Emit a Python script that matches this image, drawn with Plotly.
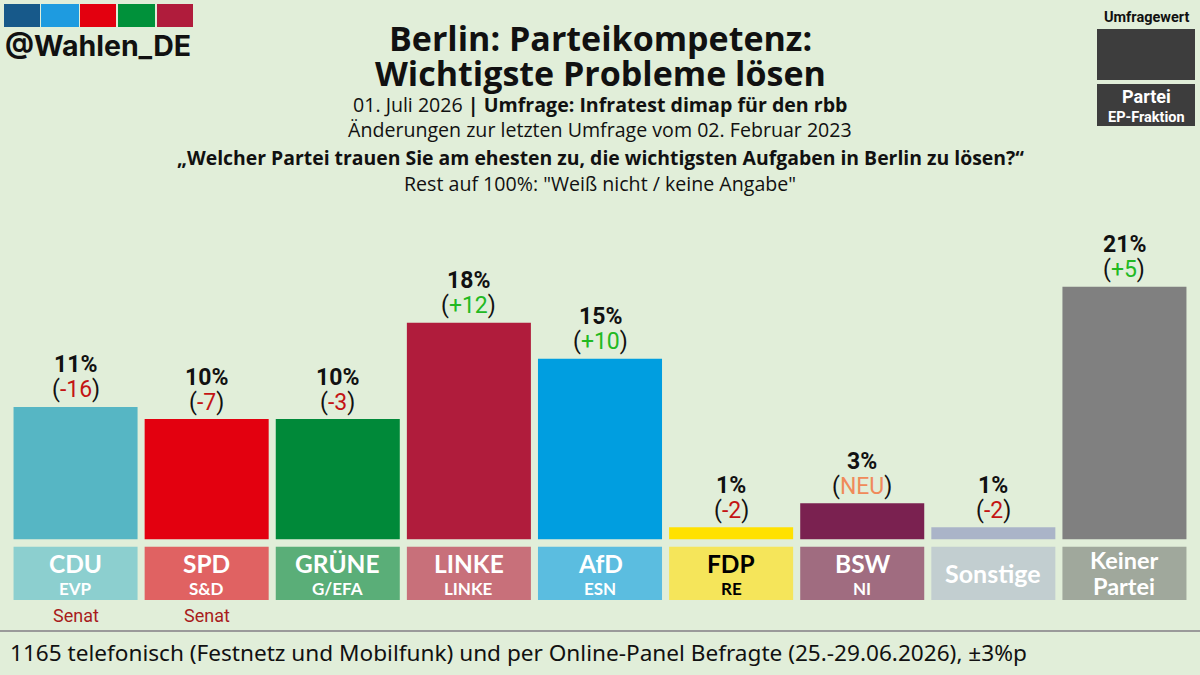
import plotly.graph_objects as go

# ---------------- data ----------------
parties = ["CDU", "SPD", "GRÜNE", "LINKE", "AfD", "FDP", "BSW", "Sonstige", "Keiner Partei"]
box_names = ["CDU", "SPD", "GRÜNE", "LINKE", "AfD", "FDP", "BSW", "Sonstige", "Keiner<br>Partei"]
fractions = ["EVP", "S&D", "G/EFA", "LINKE", "ESN", "RE", "NI", "", ""]
values = [11, 10, 10, 18, 15, 1, 3, 1, 21]
changes = ["-16", "-7", "-3", "+12", "+10", "-2", "NEU", "-2", "+5"]
notes = ["Senat", "Senat", "", "", "", "", "", "", ""]

bar_colors = ["#56b6c4", "#e3000f", "#008939", "#b01c3c", "#009ee0", "#ffe100", "#7a2150", "#aab4c8", "#808080"]
box_colors = ["#8ccfcf", "#e06262", "#5aae78", "#c8707a", "#5bbde0", "#f5e55a", "#a06c80", "#c2ced0", "#a0a89c"]
box_text_colors = ["white", "white", "white", "white", "white", "black", "white", "white", "white"]

BG = "#e1eed9"

# ---------------- geometry helpers ----------------
W, H = 1200, 675
ML, MR, MT, MB = 10, 10, 200, 75
PW, PH = W - ML - MR, H - MT - MB
BASE_PX = 539.3            # pixel row of y = 0
PX_PER_UNIT = 12.03
Y_MIN = -(H - MB - BASE_PX) / PX_PER_UNIT
Y_MAX = (BASE_PX - MT) / PX_PER_UNIT
BOX_TOP = -(546.7 - BASE_PX) / PX_PER_UNIT
BOX_BOTTOM = Y_MIN
BOX_MID = (BOX_TOP + BOX_BOTTOM) / 2


def px(xp):
    return (xp - ML) / PW


def py(yp):
    return (H - MB - yp) / PH


fig = go.Figure()

# label boxes under the bars
fig.add_trace(go.Bar(
    x=parties, y=[BOX_TOP - BOX_BOTTOM] * len(parties), base=[BOX_BOTTOM] * len(parties),
    marker=dict(color=box_colors, line=dict(width=0)), hoverinfo="skip", showlegend=False,
))
# main bars
fig.add_trace(go.Bar(
    x=parties, y=values, marker=dict(color=bar_colors, line=dict(width=0)),
    hoverinfo="skip", showlegend=False,
))

ann = []
for p, v, c in zip(parties, values, changes):
    ann.append(dict(x=p, y=v, xref="x", yref="y", xanchor="center", yanchor="middle", yshift=42,
                    text=f"<b>{v}%</b>", showarrow=False,
                    font=dict(family="Roboto", size=23, color="#111111")))
    if c == "NEU":
        col = "#f08a5a"
    elif c.startswith("+"):
        col = "#22b922"
    else:
        col = "#c41414"
    ann.append(dict(x=p, y=v, xref="x", yref="y", xanchor="center", yanchor="middle", yshift=17,
                    text=f"(<span style='color:{col}'>{c}</span>)", showarrow=False,
                    font=dict(family="Roboto", size=23, color="#111111")))

for p, n, f, tc in zip(parties, box_names, fractions, box_text_colors):
    if f:
        ann.append(dict(x=p, y=BOX_MID, xref="x", yref="y", xanchor="center", yanchor="middle", yshift=10,
                        text=f"<b>{n}</b>", showarrow=False,
                        font=dict(family="Lato", size=24.5, color=tc)))
        ann.append(dict(x=p, y=BOX_MID, xref="x", yref="y", xanchor="center", yanchor="middle", yshift=-15,
                        text=f"<b>{f}</b>", showarrow=False,
                        font=dict(family="Lato", size=17, color=tc)))
    else:
        lines = n.split("<br>")
        if len(lines) == 1:
            ann.append(dict(x=p, y=BOX_MID, xref="x", yref="y", xanchor="center", yanchor="middle",
                            text=f"<b>{lines[0]}</b>", showarrow=False,
                            font=dict(family="Lato", size=25, color=tc)))
        else:
            for line, s in zip(lines, [13, -13]):
                ann.append(dict(x=p, y=BOX_MID, xref="x", yref="y", xanchor="center", yanchor="middle",
                                yshift=s, text=f"<b>{line}</b>", showarrow=False,
                                font=dict(family="Lato", size=23.5, color=tc)))

for p, n in zip(parties, notes):
    if n:
        ann.append(dict(x=p, y=BOX_BOTTOM, xref="x", yref="y", xanchor="center", yanchor="middle", yshift=-15,
                        text=n, showarrow=False,
                        font=dict(family="Roboto", size=18, color="#a81c1c")))

C = dict(xref="paper", yref="paper", xanchor="center", yanchor="middle", showarrow=False)
ann += [
    dict(C, x=px(600), y=py(38), text="<b>Berlin: Parteikompetenz:</b>",
         font=dict(family="Open Sans", size=34, color="#111111")),
    dict(C, x=px(600), y=py(73), text="<b>Wichtigste Probleme lösen</b>",
         font=dict(family="Open Sans", size=34, color="#111111")),
    dict(C, x=px(600), y=py(104), text="01. Juli 2026 <b>| Umfrage: Infratest dimap für den rbb</b>",
         font=dict(family="Open Sans", size=19.6, color="#111111")),
    dict(C, x=px(600), y=py(129), text="Änderungen zur letzten Umfrage vom 02. Februar 2023",
         font=dict(family="Open Sans", size=19.6, color="#111111")),
    dict(C, x=px(600), y=py(157),
         text="<b>„Welcher Partei trauen Sie am ehesten zu, die wichtigsten Aufgaben in Berlin zu lösen?“</b>",
         font=dict(family="Open Sans", size=19.4, color="#111111")),
    dict(C, x=px(600), y=py(183), text="Rest auf 100%: \"Weiß nicht / keine Angabe\"",
         font=dict(family="Open Sans", size=19.6, color="#111111")),
    # footer
    dict(C, x=px(8), y=py(652), xanchor="left",
         text="1165 telefonisch (Festnetz und Mobilfunk) und per Online-Panel Befragte (25.-29.06.2026), ±3%p",
         font=dict(family="Noto Sans", size=22.6, color="#111111")),
    # logo text
    dict(C, x=px(3), y=py(45), xanchor="left", text="<b>@Wahlen_DE</b>",
         font=dict(family="Inter", size=28.5, color="#111111")),
    # legend box texts
    dict(C, x=px(1146), y=py(17), text="<b>Umfragewert</b>",
         font=dict(family="Roboto", size=14.5, color="#111111")),
    dict(C, x=px(1146), y=py(97), text="<b>Partei</b>",
         font=dict(family="Roboto", size=18, color="white")),
    dict(C, x=px(1146), y=py(117), text="<b>EP-Fraktion</b>",
         font=dict(family="Roboto", size=14.5, color="white")),
]

shapes = []
logo_cols = ["#17598a", "#1e9be0", "#e3000f", "#00913a", "#b01c3c"]
logo_x = [(4, 40), (41, 79), (80, 116), (118, 155), (157, 193)]
for (x0, x1), col in zip(logo_x, logo_cols):
    shapes.append(dict(type="rect", xref="paper", yref="paper", x0=px(x0), x1=px(x1),
                       y0=py(27), y1=py(4), fillcolor=col, line=dict(width=0), layer="above"))
shapes.append(dict(type="rect", xref="paper", yref="paper", x0=px(1097), x1=px(1195),
                   y0=py(80), y1=py(29), fillcolor="#3d3d3d", line=dict(width=0)))
shapes.append(dict(type="rect", xref="paper", yref="paper", x0=px(1097), x1=px(1195),
                   y0=py(126), y1=py(84), fillcolor="#3d3d3d", line=dict(width=0)))
shapes.append(dict(type="line", xref="paper", yref="paper", x0=px(0), x1=px(1200),
                   y0=py(631), y1=py(631), line=dict(color="#9a9a9a", width=2)))

fig.update_layout(
    width=W, height=H, barmode="overlay", bargap=0.054,
    margin=dict(l=ML, r=MR, t=MT, b=MB, pad=0),
    paper_bgcolor=BG, plot_bgcolor=BG,
    xaxis=dict(visible=False, categoryorder="array", categoryarray=parties),
    yaxis=dict(visible=False, range=[Y_MIN, Y_MAX], fixedrange=True),
    annotations=ann, shapes=shapes, showlegend=False,
)

fig.write_html("out.html", config={"displayModeBar": False})
